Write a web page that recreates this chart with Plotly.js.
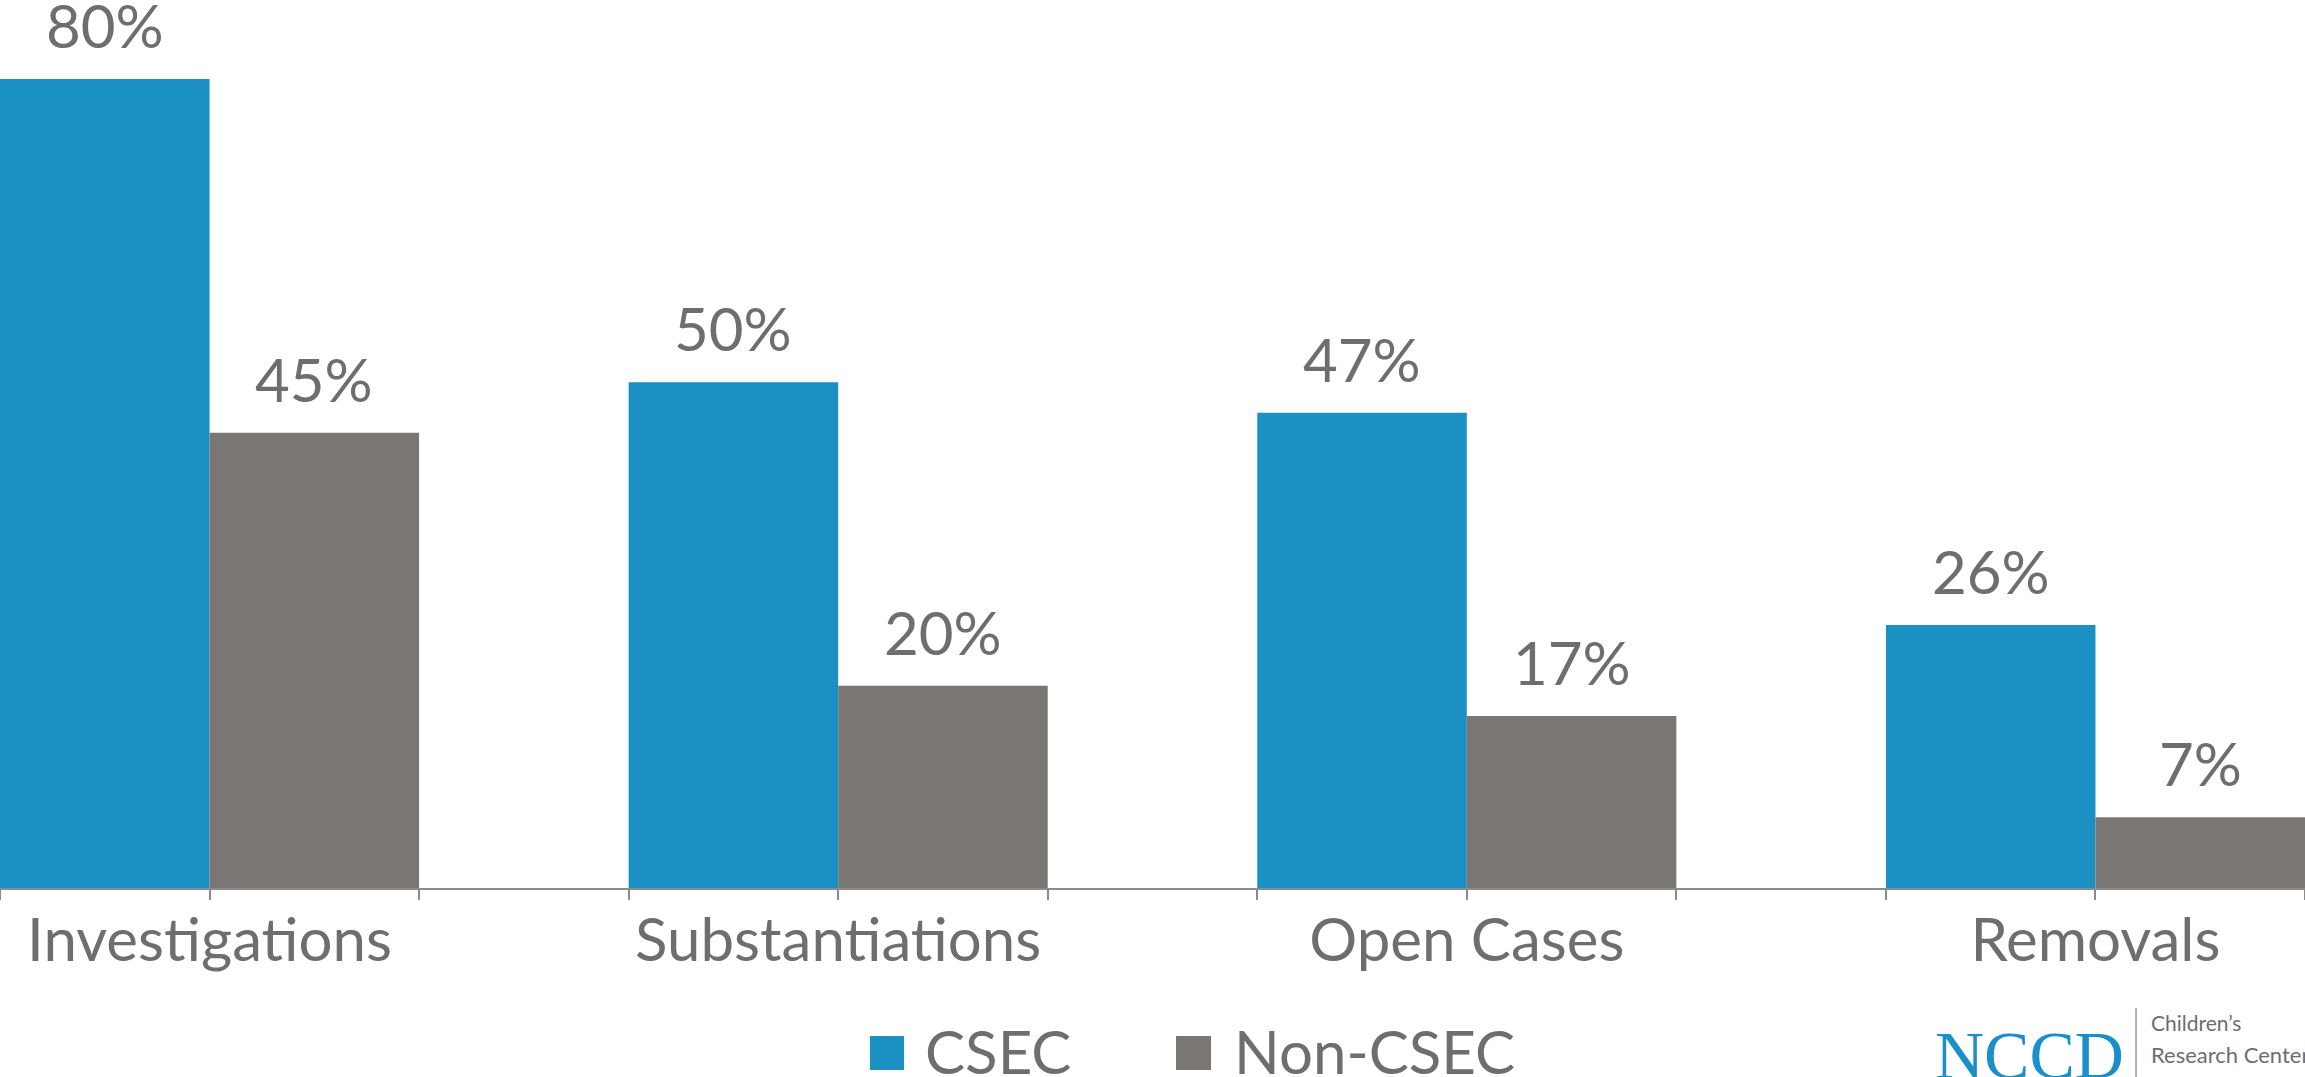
<!DOCTYPE html>
<html>
<head>
<meta charset="utf-8">
<script src="https://cdn.plot.ly/plotly-3.0.1.min.js"></script>
<style>
  html, body { margin: 0; padding: 0; background: #fff; }
  #chart { width: 2305px; height: 1077px; }
</style>
</head>
<body>
<div id="chart"></div>
<script>
const categories = ["Investigations", "Substantiations", "Open Cases", "Removals"];
const seriesNames = ["CSEC", "Non-CSEC"];
const csecValues = [80, 50, 47, 26];
const nonCsecValues = [45, 20, 17, 7];
const logoMain = "NCCD";
const logoLines = ["Children\u2019s", "Research Center"];

const BLUE = "#1a91c2";
const GRAY = "#7a7673";
const TEXT = "#6e6e6e";
const FONT = "Lato, 'Open Sans', sans-serif";

const idx = categories.map((_, i) => i);

const traces = [
  { type: "bar", name: seriesNames[0], x: idx, y: csecValues,
    marker: { color: BLUE }, showlegend: false, hoverinfo: "skip" },
  { type: "bar", name: seriesNames[1], x: idx, y: nonCsecValues,
    marker: { color: GRAY }, showlegend: false, hoverinfo: "skip" }
];

const annotations = [];
[csecValues, nonCsecValues].forEach((vals, s) => {
  vals.forEach((v, i) => {
    annotations.push({
      x: i + (s === 0 ? -1 / 6 : 1 / 6), y: v, xref: "x", yref: "y",
      text: v + "%", showarrow: false, yanchor: "bottom", yshift: 16,
      font: { family: FONT, size: 60, color: TEXT }
    });
  });
});

// legend (drawn manually for large swatches)
const legendX = [0.4004, 0.5345];
const swatch = [[0.3774, 0.3922], [0.5102, 0.5254]];
const colors = [BLUE, GRAY];
const shapes = [];
seriesNames.forEach((n, k) => {
  shapes.push({ type: "rect", xref: "paper", yref: "paper",
    x0: swatch[k][0], x1: swatch[k][1], y0: -0.205, y1: -0.1667,
    fillcolor: colors[k], line: { width: 0 } });
  annotations.push({ xref: "paper", yref: "paper", x: legendX[k], y: -0.184,
    xanchor: "left", yanchor: "middle", text: n, showarrow: false,
    font: { family: FONT, size: 60, color: TEXT } });
});

// logo
shapes.push({ type: "line", xref: "paper", yref: "paper",
  x0: 0.9267, x1: 0.9267, y0: -0.135, y1: -0.2128,
  line: { color: "#9a9a9a", width: 1.5 } });
annotations.push({ xref: "paper", yref: "paper", x: 0.9225, y: -0.188,
  xanchor: "right", yanchor: "middle", text: logoMain, showarrow: false,
  font: { family: "'Liberation Serif', serif", size: 68, color: "#1a8fcb" } });
annotations.push({ xref: "paper", yref: "paper", x: 0.9325, y: -0.152,
  xanchor: "left", yanchor: "middle", text: logoLines[0], showarrow: false,
  font: { family: FONT, size: 21, color: TEXT } });
annotations.push({ xref: "paper", yref: "paper", x: 0.9325, y: -0.188,
  xanchor: "left", yanchor: "middle", text: logoLines[1], showarrow: false,
  font: { family: FONT, size: 22, color: TEXT } });

const layout = {
  width: 2305, height: 1077,
  margin: { l: 0, r: 0, t: 0, b: 189, pad: 0 },
  paper_bgcolor: "#fff", plot_bgcolor: "#fff",
  barmode: "group", bargap: 1 / 3, bargroupgap: 0,
  showlegend: false,
  xaxis: {
    type: "linear", range: [-1 / 3, 10 / 3], fixedrange: true,
    tickmode: "array", tickvals: idx, ticktext: categories,
    ticks: "outside", ticklen: 10, tickwidth: 2, tickcolor: "#8a8a8a",
    minor: { tick0: -1 / 3, dtick: 1 / 3, ticks: "outside", ticklen: 10, tickwidth: 2, tickcolor: "#8a8a8a", showgrid: false },
    showline: true, linecolor: "#8a8a8a", linewidth: 2,
    showgrid: false, zeroline: false,
    ticklabelstandoff: -11,
    tickfont: { family: FONT, size: 60, color: TEXT }
  },
  yaxis: { range: [0, 87.8], visible: false, showgrid: false, zeroline: false, fixedrange: true },
  annotations: annotations,
  shapes: shapes
};

Plotly.newPlot("chart", traces, layout, { displayModeBar: false, staticPlot: true });
</script>
</body>
</html>
